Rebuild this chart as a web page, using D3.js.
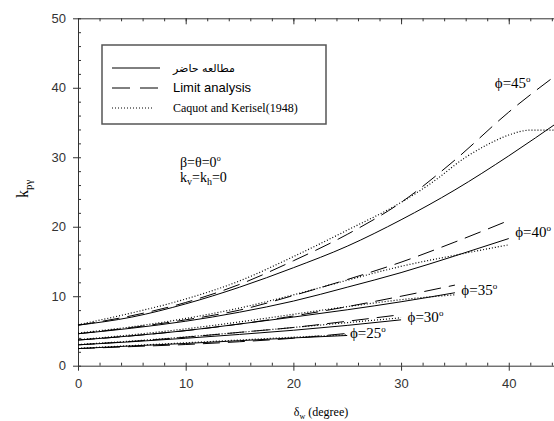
<!DOCTYPE html>
<html>
<head>
<meta charset="utf-8">
<script src="https://cdn.jsdelivr.net/npm/d3@7"></script>
<style>
  body { margin: 0; background: #fff; }
  svg { display: block; }
</style>
</head>
<body>
<svg id="plot" width="554" height="421"></svg>
<script>
// wall friction angle steps (degree)
const deltaSteps = [0, 5, 10, 15, 20, 25, 30, 35, 40, 45];
const caquotDelta45 = [0, 5, 10, 15, 20, 25, 30, 33, 36, 38, 40, 42, 44, 45];

// present study (solid)
const present25 = [2.46, 2.85, 3.2, 3.6, 4.0, 4.35];
const present30 = [3.0, 3.45, 3.95, 4.5, 5.1, 5.8, 6.6];
const present35 = [3.69, 4.3, 5.05, 6.0, 7.0, 8.05, 9.2, 10.5];
const present40 = [4.6, 5.4, 6.4, 7.7, 9.3, 11.3, 13.4, 15.8, 18.3];
const present45 = [5.83, 7.0, 8.9, 11.3, 14.1, 17.2, 21.0, 25.3, 30.2, 35.5];

// limit analysis (dashed)
const limit25 = [2.46, 2.75, 3.05, 3.45, 3.95, 4.65];
const limit30 = [3.0, 3.5, 4.1, 4.8, 5.5, 6.4, 7.35];
const limit35 = [3.69, 4.3, 5.05, 6.0, 7.15, 8.5, 10.0, 11.6];
const limit40 = [4.6, 5.5, 6.6, 8.0, 10.1, 12.4, 14.9, 17.8, 20.9];
const limit45 = [5.83, 7.2, 9.1, 11.7, 15.1, 18.9, 23.5, 29.6, 36.5, 42.5];

// Caquot and Kerisel (dotted)
const caquot25 = [2.5, 2.9, 3.3, 3.7, 4.1, 4.45];
const caquot30 = [3.05, 3.55, 4.15, 4.8, 5.5, 6.2, 6.9];
const caquot35 = [3.75, 4.45, 5.3, 6.3, 7.4, 8.5, 9.5, 10.2];
const caquot40 = [4.7, 5.6, 6.8, 8.3, 10.2, 12.3, 14.3, 15.9, 17.4];
const caquot45 = [5.9, 7.6, 9.6, 12.2, 15.7, 19.5, 23.5, 26.5, 30.0, 31.8, 33.2, 33.9, 33.9, 33.7];

const phiLabels = [
  { text: "45", x: 38.7, y: 40.0 },
  { text: "40", x: 40.6, y: 18.5 },
  { text: "35", x: 35.6, y: 10.2 },
  { text: "30", x: 30.6, y: 6.3 },
  { text: "25", x: 25.25, y: 4.0 }
];

const legendItems = [
  { label: "مطالعه حاضر", dash: null, font: "'DejaVu Sans', sans-serif", size: 11, spacing: 1.5 },
  { label: "Limit analysis", dash: "18,10", font: "'Liberation Sans', Arial, sans-serif", size: 13, spacing: 0 },
  { label: "Caquot and Kerisel(1948)", dash: "1,2", font: "'Liberation Serif', 'Times New Roman', serif", size: 12, spacing: 0 }
];

const series = [
  { d: deltaSteps, v: present25, dash: null },
  { d: deltaSteps, v: present30, dash: null },
  { d: deltaSteps, v: present35, dash: null },
  { d: deltaSteps, v: present40, dash: null },
  { d: deltaSteps, v: present45, dash: null },
  { d: deltaSteps, v: limit25, dash: "17,8" },
  { d: deltaSteps, v: limit30, dash: "17,8" },
  { d: deltaSteps, v: limit35, dash: "17,8" },
  { d: deltaSteps, v: limit40, dash: "17,8" },
  { d: deltaSteps, v: limit45, dash: "17,8" },
  { d: deltaSteps, v: caquot25, dash: "1,2" },
  { d: deltaSteps, v: caquot30, dash: "1,2" },
  { d: deltaSteps, v: caquot35, dash: "1,2" },
  { d: deltaSteps, v: caquot40, dash: "1,2" },
  { d: caquotDelta45, v: caquot45, dash: "1,2" }
];

const svg = d3.select("#plot");
const serif = "'Liberation Serif', 'Times New Roman', 'DejaVu Serif', serif";
const sans = "'Liberation Sans', Arial, sans-serif";

const x = d3.scaleLinear().domain([0, 45]).range([78, 562.6]);
const y = d3.scaleLinear().domain([0, 50]).range([365.7, 18.3]);

svg.append("rect").attr("width", 554).attr("height", 421).attr("fill", "#fff");

// axes: major ticks outward with labels, minor ticks inward
const majorX = d3.range(0, 50, 10);
const minorX = d3.range(0, 46, 2);
const majorY = d3.range(0, 60, 10);
const minorY = d3.range(0, 51, 2);

function styleAxis(g) {
  g.selectAll("path, line").attr("stroke", "#333");
  g.selectAll("text").attr("font-family", sans).attr("font-size", "13px").attr("fill", "#333");
}

svg.append("g")
  .attr("transform", `translate(0,${y(0)})`)
  .call(d3.axisBottom(x).tickValues(minorX).tickSize(-3).tickSizeOuter(0).tickFormat(""))
  .call(styleAxis);
svg.append("g")
  .attr("transform", `translate(0,${y(0)})`)
  .call(d3.axisBottom(x).tickValues(majorX).tickSize(5).tickSizeOuter(0).tickPadding(8))
  .call(g => g.select(".domain").remove())
  .call(styleAxis);

svg.append("g")
  .attr("transform", `translate(0,${y(50)})`)
  .call(d3.axisTop(x).tickValues(minorX).tickSize(-3).tickSizeOuter(0).tickFormat(""))
  .call(styleAxis);
svg.append("g")
  .attr("transform", `translate(0,${y(50)})`)
  .call(d3.axisTop(x).tickValues(majorX).tickSize(-6).tickSizeOuter(0).tickFormat(""))
  .call(g => g.select(".domain").remove())
  .call(styleAxis);

svg.append("g")
  .attr("transform", `translate(${x(0)},0)`)
  .call(d3.axisLeft(y).tickValues(minorY).tickSize(-3).tickSizeOuter(0).tickFormat(""))
  .call(styleAxis);
svg.append("g")
  .attr("transform", `translate(${x(0)},0)`)
  .call(d3.axisLeft(y).tickValues(majorY).tickSize(5).tickSizeOuter(0).tickPadding(7))
  .call(g => g.select(".domain").remove())
  .call(styleAxis);

// curves
const line = d3.line()
  .x(p => x(p[0]))
  .y(p => y(p[1]))
  .curve(d3.curveMonotoneX);

series.forEach(s => {
  const pts = s.v.map((v, i) => [s.d[i], v]);
  svg.append("path")
    .attr("d", line(pts))
    .attr("fill", "none")
    .attr("stroke", "#000")
    .attr("stroke-width", s.dash === "1,2" ? 1.2 : 1)
    .attr("stroke-dasharray", s.dash);
});

// phi labels
phiLabels.forEach(l => {
  const t = svg.append("text")
    .attr("x", x(l.x))
    .attr("y", y(l.y))
    .attr("font-family", serif)
    .attr("font-size", "15px")
    .attr("fill", "#000");
  t.append("tspan").text("ϕ=" + l.text);
  t.append("tspan").attr("font-size", "9px").attr("dy", -6).text("o");
});

// legend
const legend = svg.append("g");
legend.append("rect")
  .attr("x", 102).attr("y", 45)
  .attr("width", 224).attr("height", 79)
  .attr("fill", "#fff")
  .attr("stroke", "#555")
  .attr("stroke-width", 1.5);

legendItems.forEach((item, i) => {
  const ly = 68 + i * 20;
  legend.append("line")
    .attr("x1", 112).attr("x2", i === 2 ? 152 : 160)
    .attr("y1", ly).attr("y2", ly)
    .attr("stroke", "#000")
    .attr("stroke-dasharray", item.dash);
  legend.append("text")
    .attr("x", 173)
    .attr("y", ly + 4)
    .attr("font-family", item.font)
    .attr("font-size", item.size + "px")
    .attr("letter-spacing", item.spacing)
    .attr("fill", "#000")
    .text(item.label);
});

// condition annotations
const ann1 = svg.append("text").attr("x", 180).attr("y", 167)
  .attr("font-family", serif).attr("font-size", "14px");
ann1.append("tspan").text("β=θ=0");
ann1.append("tspan").attr("font-size", "8px").attr("dy", -6).text("o");

const ann2 = svg.append("text").attr("x", 180).attr("y", 182)
  .attr("font-family", serif).attr("font-size", "14px");
ann2.append("tspan").text("k");
ann2.append("tspan").attr("font-size", "10px").attr("dy", 3).text("v");
ann2.append("tspan").attr("dy", -3).text("=k");
ann2.append("tspan").attr("font-size", "10px").attr("dy", 3).text("h");
ann2.append("tspan").attr("dy", -3).text("=0");

// axis titles
const yTitle = svg.append("text")
  .attr("transform", "translate(28,198) rotate(-90)")
  .attr("font-family", serif).attr("font-size", "16px");
yTitle.append("tspan").text("k");
yTitle.append("tspan").attr("font-size", "11px").attr("dy", 4).text("pγ");

const xTitle = svg.append("text")
  .attr("x", 321).attr("y", 416)
  .attr("text-anchor", "middle")
  .attr("font-family", serif).attr("font-size", "12px");
xTitle.append("tspan").text("δ");
xTitle.append("tspan").attr("font-size", "8px").attr("dy", 3).text("w");
xTitle.append("tspan").attr("dy", -3).text(" (degree)");
</script>
</body>
</html>
